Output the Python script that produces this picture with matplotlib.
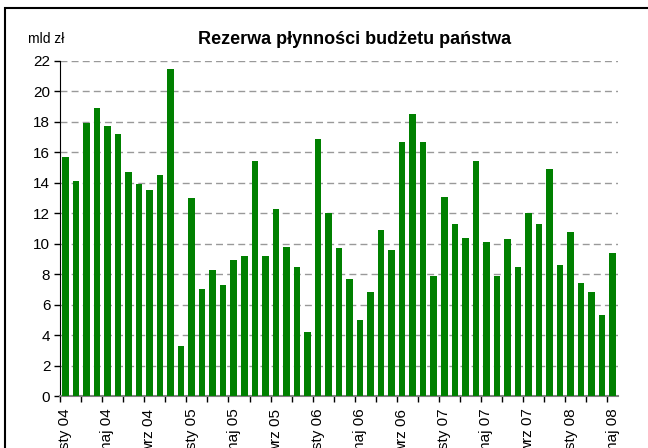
import matplotlib
matplotlib.use("Agg")
import matplotlib.pyplot as plt
from matplotlib.patches import Rectangle

# monthly values, sty 04 .. maj 08 (mld zl)
months = ["sty", "lut", "mar", "kwi", "maj", "cze", "lip", "sie", "wrz", "paź", "lis", "gru"]
years = ["04", "05", "06", "07", "08"]
values = [15.7, 14.1, 17.9, 18.9, 17.7, 17.2, 14.7, 13.9, 13.5, 14.5, 21.5, 3.3,
          13.0, 7.0, 8.3, 7.3, 8.9, 9.2, 15.4, 9.2, 12.3, 9.8, 8.5, 4.2,
          16.9, 12.0, 9.7, 7.7, 5.0, 6.8, 10.9, 9.6, 16.7, 18.5, 16.7, 7.9,
          13.1, 11.3, 10.4, 15.4, 10.1, 7.9, 10.3, 8.5, 12.0, 11.3, 14.9, 8.6,
          10.8, 7.4, 6.8, 5.3, 9.4]
labels = [f"{months[i % 12]} {years[i // 12]}" for i in range(len(values))]

plt.rcParams['font.family'] = ['Liberation Sans Narrow', 'Liberation Sans', 'DejaVu Sans']

fig = plt.figure(figsize=(6.48, 4.48), dpi=100)
ax = fig.add_axes([60 / 648, 52 / 448, 558 / 648, 335 / 448])

x = list(range(len(values)))
ax.bar(x, values, width=0.62, color="#008000", zorder=3)

ax.set_xlim(-0.5, len(values) - 0.5)
ax.set_ylim(0, 22)
ax.set_yticks(range(0, 23, 2))
ax.yaxis.grid(True, color="#999999", linestyle=(0, (5, 3)), linewidth=1.0, zorder=0)

ax.set_xticks(x[::4])
ax.set_xticklabels(labels[::4], rotation=90, fontsize=11)
ax.set_xticks([i - 0.5 for i in range(0, len(values) + 1, 2)], minor=True)
ax.tick_params(axis='x', which='major', length=0, pad=9)
ax.tick_params(axis='x', which='minor', length=4, width=1, color='black', direction='out')
ax.tick_params(axis='y', length=4, width=1, direction='out', labelsize=11, pad=3)

for side in ["top", "right"]:
    ax.spines[side].set_visible(False)
ax.spines["left"].set_color("black")
ax.spines["bottom"].set_color("#808080")
ax.spines["bottom"].set_linewidth(1.5)

fig.text(355 / 648, 1 - 39 / 448, "Rezerwa płynności budżetu państwa",
         ha="center", va="center", fontsize=13, fontweight="bold",
         family=['Liberation Sans', 'DejaVu Sans'])
fig.text(28 / 648, 1 - 39 / 448, "mld zł", ha="left", va="center", fontsize=10)

# outer frame
fig.patches.append(Rectangle((5 / 648, -0.1), 1.0, 1 - 8 / 448 + 0.1,
                             transform=fig.transFigure, fill=False,
                             edgecolor="black", linewidth=1.5))

plt.savefig("out.png", dpi=100)
plt.close()
